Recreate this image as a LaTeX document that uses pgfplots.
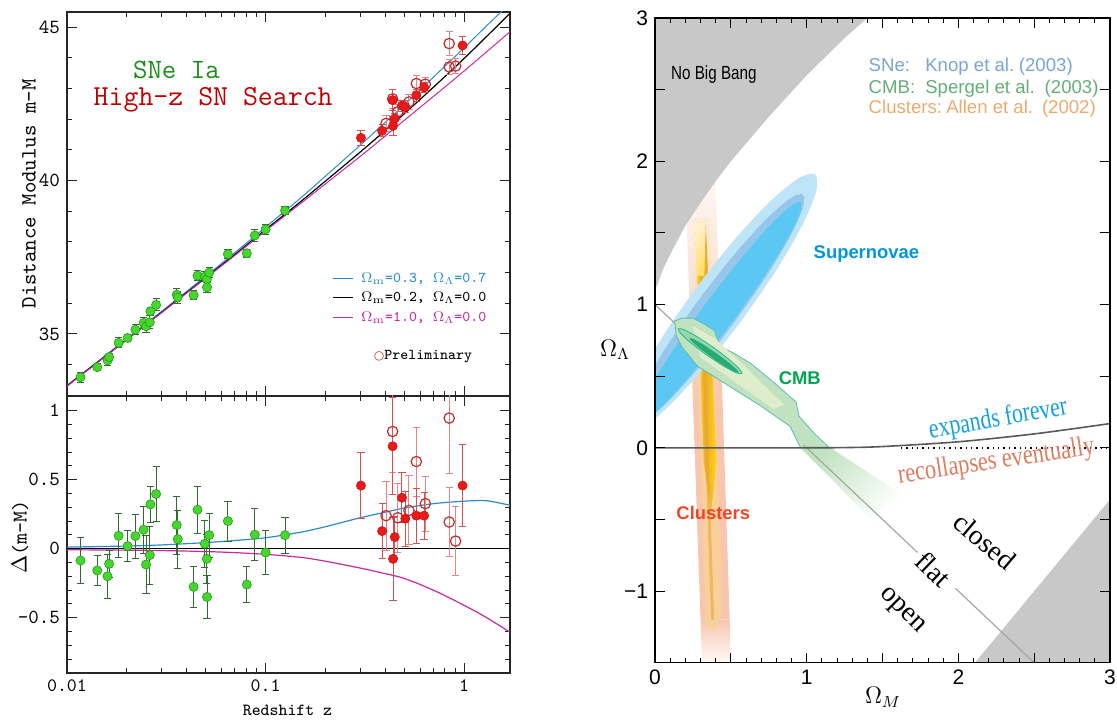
\documentclass[border=0pt]{standalone}
\usepackage{fontspec}
\usepackage{pgfplots}
\usepackage{pgfplotstable}
\pgfplotsset{compat=1.18}
\newfontfamily\hel{Liberation Sans}
\newfontfamily\tms{Liberation Serif}
\newfontfamily\dejavu{DejaVu Sans}
\newcommand\fs[1]{\fontsize{#1}{#1}\selectfont}
\definecolor{gfill}{RGB}{70,215,45}
\definecolor{gedge}{RGB}{40,150,30}
\definecolor{gerr}{RGB}{45,110,45}
\definecolor{rfill}{RGB}{235,25,25}
\definecolor{rerr}{RGB}{215,80,80}
\definecolor{ropen}{RGB}{190,45,45}
\definecolor{cblue}{RGB}{40,140,205}
\definecolor{cmag}{RGB}{200,40,160}
\definecolor{gray1}{RGB}{200,200,200}
\definecolor{snout}{RGB}{190,228,248}
\definecolor{snmid}{RGB}{150,198,234}
\definecolor{snin}{RGB}{90,200,242}
\definecolor{cmbfill}{RGB}{192,226,192}
\definecolor{cmblite}{RGB}{222,238,205}
\definecolor{cmbedge}{RGB}{90,190,170}
\definecolor{cmbell}{RGB}{150,215,175}
\definecolor{cmbdark}{RGB}{40,170,115}
\definecolor{clout}{RGB}{248,198,174}
\definecolor{clmid}{RGB}{247,208,155}
\definecolor{clyel}{RGB}{255,215,20}
\definecolor{clora}{RGB}{232,165,45}
\definecolor{legb}{RGB}{120,165,210}
\definecolor{legg}{RGB}{100,175,120}
\definecolor{lego}{RGB}{235,170,110}
\definecolor{txsn}{RGB}{0,150,220}
\definecolor{txcmb}{RGB}{0,165,80}
\definecolor{txcl}{RGB}{240,70,40}
\definecolor{txexp}{RGB}{20,160,220}
\definecolor{txrec}{RGB}{220,125,95}

\pgfplotstableread{
z mu d e
0.0117 33.59 -0.085 0.17
0.0142 33.92 -0.157 0.11
0.0160 34.14 -0.199 0.16
0.0163 34.25 -0.109 0.10
0.0182 34.71 0.094 0.16
0.0202 34.87 0.019 0.11
0.0221 35.14 0.092 0.16
0.0243 35.36 0.138 0.17
0.0250 35.25 -0.114 0.21
0.0261 35.38 -0.046 0.21
0.0263 35.74 0.322 0.13
0.0281 35.95 0.397 0.20
0.0357 36.28 0.172 0.21
0.0361 36.19 0.070 0.21
0.0434 36.26 -0.276 0.15
0.0454 36.90 0.283 0.17
0.0494 36.87 0.036 0.17
0.0506 36.78 -0.073 0.18
0.0507 36.52 -0.349 0.155
0.0520 37.00 0.099 0.16
0.0646 37.60 0.201 0.145
0.0804 37.63 -0.259 0.13
0.0882 38.21 0.102 0.19
0.1000 38.41 -0.027 0.16
0.1253 39.02 0.099 0.13
}\greentab

\pgfplotstableread{
z mu d e
0.302 41.39 0.458 0.24
0.386 41.62 0.128 0.20
0.436 42.62 0.743 0.35
0.438 41.78 -0.073 0.30
0.447 42.02 0.085 0.15
0.486 42.44 0.370 0.18
0.505 42.40 0.218 0.20
0.574 42.78 0.240 0.20
0.628 43.03 0.240 0.17
0.981 44.40 0.458 0.30
}\redtab

\pgfplotstableread{
z mu d e
0.404 41.86 0.240 0.25
0.436 42.66 0.850 0.30
0.463 42.24 0.225 0.25
0.527 42.56 0.278 0.25
0.574 43.16 0.632 0.25
0.637 43.14 0.327 0.20
0.840 44.46 0.947 0.40
0.840 43.70 0.194 0.25
0.905 43.73 0.056 0.25
}\opentab

\pgfplotstableread{
z black blue mag db dm
0.01 33.31 33.32 33.30 0.012 -0.007
0.02 34.82 34.84 34.81 0.020 -0.010
0.03 35.71 35.74 35.70 0.028 -0.013
0.05 36.84 36.885 36.82 0.045 -0.020
0.07 37.59 37.65 37.56 0.060 -0.028
0.1 38.40 38.48 38.36 0.080 -0.040
0.15 39.31 39.43 39.25 0.120 -0.062
0.2 39.98 40.14 39.89 0.160 -0.090
0.3 40.93 41.155 40.79 0.225 -0.140
0.4 41.63 41.895 41.45 0.265 -0.180
0.5 42.18 42.475 41.965 0.295 -0.215
0.7 43.04 43.367 42.74 0.327 -0.300
1.0 43.98 44.325 43.57 0.345 -0.410
1.3 44.70 45.048 44.20 0.348 -0.500
1.7 45.45 45.765 44.845 0.315 -0.605
}\curvetab

\begin{document}
\begin{tikzpicture}
\useasboundingbox (0,0) rectangle (558.5pt,361pt);

% ---------- top left ----------
\begin{axis}[scale only axis, anchor=south west, width=221.5pt,
  at={(33.5pt,163pt)}, height=192pt,
  xmode=log, xmin=0.01, xmax=1.7,
  xtick={0.01,0.1,1}, xticklabels={},
  minor xtick={0.02,0.03,0.04,0.05,0.06,0.07,0.08,0.09,0.2,0.3,0.4,0.5,0.6,0.7,0.8,0.9},
  ymin=32.98, ymax=45.49,
  ytick={35,40,45}, yticklabels={35,40,45},
  minor ytick={33,34,36,37,38,39,41,42,43,44},
  tick align=inside, major tick length=5pt, minor tick length=2.5pt,
  tick style={black!85, line width=0.5pt},
  axis line style={black!85, line width=0.6pt},
  yticklabel style={font=\ttfamily\fs{10}}]
\addplot[cblue, line width=0.5pt, smooth] table[x=z,y=blue]{\curvetab};
\addplot[black, line width=0.6pt, smooth] table[x=z,y=black]{\curvetab};
\addplot[cmag, line width=0.5pt, smooth] table[x=z,y=mag]{\curvetab};
\addplot[only marks, mark=*, mark size=2.3pt, mark options={fill=gfill, draw=gedge, line width=0.3pt},
  error bars/.cd, y dir=both, y explicit, error bar style={gerr, line width=0.5pt},
  error mark options={rotate=90, gerr, mark size=1.8pt, line width=0.5pt}]
  table[x=z,y=mu,y error=e]{\greentab};
\addplot[only marks, mark=o, mark size=2.6pt, mark options={draw=ropen, line width=0.6pt},
  error bars/.cd, y dir=both, y explicit, error bar style={rerr!70, line width=0.5pt},
  error mark options={rotate=90, rerr!70, mark size=1.8pt, line width=0.5pt}]
  table[x=z,y=mu,y error=e]{\opentab};
\addplot[only marks, mark=*, mark size=2.3pt, mark options={fill=rfill, draw=rfill!85!black, line width=0.3pt},
  error bars/.cd, y dir=both, y explicit, error bar style={rerr, line width=0.5pt},
  error mark options={rotate=90, rerr, mark size=1.8pt, line width=0.5pt}]
  table[x=z,y=mu,y error=e]{\redtab};
\node[font=\ttfamily\fs{14}, text=green!50!black!90, anchor=center] at (rel axis cs:0.247,0.849) {SNe Ia};
\node[font=\ttfamily\fs{14.5}, text=red!75!black, anchor=center] at (rel axis cs:0.330,0.771) {High-z SN Search};
\node[font=\ttfamily\fs{7.5}, anchor=west, inner sep=0pt] at (rel axis cs:0.600,0.304) {\textcolor{cblue}{\rule[0.6ex]{10pt}{0.5pt}\hspace{4pt}$\Omega_{\mathrm{m}}$=0.3, $\Omega_\Lambda$=0.7}};
\node[font=\ttfamily\fs{7.5}, anchor=west, inner sep=0pt] at (rel axis cs:0.600,0.255) {\textcolor{black}{\rule[0.6ex]{10pt}{0.7pt}\hspace{4pt}$\Omega_{\mathrm{m}}$=0.2, $\Omega_\Lambda$=0.0}};
\node[font=\ttfamily\fs{7.5}, anchor=west, inner sep=0pt] at (rel axis cs:0.600,0.204) {\textcolor{cmag}{\rule[0.6ex]{10pt}{0.5pt}\hspace{4pt}$\Omega_{\mathrm{m}}$=1.0, $\Omega_\Lambda$=0.0}};
\node[font=\ttfamily\fs{7.5}, anchor=west, inner sep=0pt] at (rel axis cs:0.692,0.102) {{\dejavu\fs{6}\textcolor{ropen}{○}}Preliminary};
\end{axis}

% ---------- bottom left ----------
\begin{axis}[scale only axis, anchor=south west, width=221.5pt,
  at={(33.5pt,24.5pt)}, height=138.5pt,
  xmode=log, xmin=0.01, xmax=1.7,
  xtick={0.01,0.1,1}, xticklabels={0.01,0.1,1},
  minor xtick={0.02,0.03,0.04,0.05,0.06,0.07,0.08,0.09,0.2,0.3,0.4,0.5,0.6,0.7,0.8,0.9},
  ymin=-0.9, ymax=1.107,
  ytick={-0.5,0,0.5,1}, yticklabels={-{}0.5,0,0.5,1},
  minor ytick={-0.8,-0.7,-0.6,-0.4,-0.3,-0.2,-0.1,0.1,0.2,0.3,0.4,0.6,0.7,0.8,0.9},
  tick align=inside, major tick length=5pt, minor tick length=2.5pt,
  tick style={black!85, line width=0.5pt},
  axis line style={black!85, line width=0.6pt},
  yticklabel style={font=\ttfamily\fs{10}},
  xticklabel style={font=\ttfamily\fs{9.5}}]
\addplot[black, line width=0.6pt] coordinates {(0.01,0) (1.7,0)};
\addplot[cblue, line width=0.6pt, smooth] table[x=z,y=db]{\curvetab};
\addplot[cmag, line width=0.6pt, smooth] table[x=z,y=dm]{\curvetab};
\addplot[only marks, mark=*, mark size=2.3pt, mark options={fill=gfill, draw=gedge, line width=0.3pt},
  error bars/.cd, y dir=both, y explicit, error bar style={gerr, line width=0.5pt},
  error mark options={rotate=90, gerr, mark size=1.8pt, line width=0.5pt}]
  table[x=z,y=d,y error=e]{\greentab};
\addplot[only marks, mark=o, mark size=2.6pt, mark options={draw=ropen, line width=0.6pt},
  error bars/.cd, y dir=both, y explicit, error bar style={rerr!70, line width=0.5pt},
  error mark options={rotate=90, rerr!70, mark size=1.8pt, line width=0.5pt}]
  table[x=z,y=d,y error=e]{\opentab};
\addplot[only marks, mark=*, mark size=2.3pt, mark options={fill=rfill, draw=rfill!85!black, line width=0.3pt},
  error bars/.cd, y dir=both, y explicit, error bar style={rerr, line width=0.5pt},
  error mark options={rotate=90, rerr, mark size=1.8pt, line width=0.5pt}]
  table[x=z,y=d,y error=e]{\redtab};
\end{axis}

\node[rotate=90, font=\ttfamily\fs{10.9}] at (14.5pt,264pt) {Distance Modulus m-M};
\node[rotate=90, font=\ttfamily\fs{10.5}] at (10pt,92.5pt) {$\Delta$(m-M)};
\node[font=\ttfamily\fs{8.5}] at (143.75pt,6pt) {Redshift z};

% ---------- right ----------
\begin{axis}[at={(327.5pt,29.65pt)}, anchor=south west, scale only axis,
  width=227.5pt, height=322.35pt,
  xmin=0, xmax=3, ymin=-1.5, ymax=3,
  xtick={0,0.5,1,1.5,2,2.5,3}, xticklabels={0,,1,,2,,3},
  ytick={-1.5,-1,-0.5,0,0.5,1,1.5,2,2.5,3}, yticklabels={,−1,,0,,1,,2,,3},
  minor x tick num=4,
  tick align=inside, major tick length=5pt, minor tick length=2.5pt,
  tick style={black, line width=0.5pt},
  axis line style={black, line width=0.7pt},
  ticklabel style={font=\hel\fs{10.5}},
  axis on top]
% clusters
\addplot[draw=none, top color=clout!15, bottom color=clout] coordinates {(0.20,1.85) (0.40,1.85) (0.446,0.3) (0.251,0.3)} -- cycle;
\addplot[draw=none, fill=clout] coordinates {(0.251,0.3) (0.446,0.3) (0.4925,-1.2) (0.300,-1.2)} -- cycle;
\addplot[draw=none, top color=clout, bottom color=clout!10] coordinates {(0.300,-1.2) (0.4925,-1.2) (0.50,-1.5) (0.31,-1.5)} -- cycle;
\addplot[draw=none, top color=clmid!40, bottom color=clmid] coordinates {(0.255,1.6) (0.365,1.6) (0.40,0.3) (0.29,0.3)} -- cycle;
\addplot[draw=none, fill=clmid] coordinates {(0.29,0.3) (0.40,0.3) (0.445,-1.15) (0.39,-1.27) (0.335,-1.25)} -- cycle;
\addplot[draw=none, left color=clyel, right color=clyel, middle color=clora!85!clyel] coordinates {(0.265,1.57) (0.335,1.57) (0.405,-0.1) (0.37,-0.45) (0.322,-0.1)} -- cycle;
\addplot[draw=none, fill=clora, opacity=0.55] coordinates {(0.293,1.2) (0.313,1.2) (0.39,-1.2) (0.37,-1.2)} -- cycle;
\addplot[draw=none, top color=white, bottom color=clyel!60, opacity=0.8] coordinates {(0.265,1.57) (0.335,1.57) (0.325,1.2) (0.275,1.2)} -- cycle;
% gray regions
\addplot[draw=none, fill=gray1] coordinates {(0,1.1) (0.02,1.15) (0.05,1.24) (0.1,1.35) (0.2,1.55) (0.3,1.71) (0.4,1.86) (0.5,2.0) (0.75,2.31) (1.0,2.6) (1.25,2.86) (1.4,3.0) (0,3)} -- cycle;
\addplot[draw=none, fill=gray1] coordinates {(2.11,-1.5) (3,-1.5) (3,-0.36)} -- cycle;
% supernovae
\addplot[draw=none, fill=snout, smooth] coordinates {(0.5684,0.8838) (0.3140,0.5448) (0.0757,0.2752) (-0.1101,0.1159) (-0.2152,0.0912) (-0.2237,0.2049) (-0.1341,0.4396) (0.0398,0.7596) (0.2716,1.1162) (0.5260,1.4552) (0.7643,1.7248) (0.9501,1.8841) (1.0552,1.9088) (1.0637,1.7951) (0.9741,1.5604) (0.8002,1.2404) (0.5684,0.8838)};
\addplot[draw=none, fill=snmid, smooth] coordinates {(0.5213,0.8728) (0.2967,0.5703) (0.0895,0.3271) (-0.0690,0.1803) (-0.1546,0.1522) (-0.1542,0.2471) (-0.0679,0.4505) (0.0911,0.7315) (0.2987,1.0472) (0.5233,1.3497) (0.7305,1.5929) (0.8890,1.7397) (0.9746,1.7678) (0.9742,1.6729) (0.8879,1.4695) (0.7289,1.1885) (0.5213,0.8728)};
\addplot[draw=none, fill=snin, smooth] coordinates {(0.5048,0.8736) (0.2912,0.5824) (0.0974,0.3456) (-0.0474,0.1993) (-0.1211,0.1658) (-0.1124,0.2501) (-0.0226,0.4396) (0.1346,0.7050) (0.3352,1.0064) (0.5488,1.2976) (0.7426,1.5344) (0.8874,1.6807) (0.9611,1.7142) (0.9524,1.6299) (0.8626,1.4404) (0.7054,1.1750) (0.5048,0.8736)};
% CMB
\addplot[draw=none, top color=cmbfill, bottom color=white, shading angle=45] coordinates {(0.958,0.0) (1.156,0.0) (1.62,-0.32) (1.465,-0.54)} -- cycle;
\addplot[draw=cmbedge, line width=0.4pt, fill=cmbfill] coordinates {(0.13,0.885) (0.18,0.905) (0.25,0.905) (0.33,0.86) (0.39,0.82) (0.43,0.71) (0.52,0.66) (0.63,0.59) (0.78,0.46) (0.93,0.32) (0.95,0.22) (1.05,0.10) (1.15,0.0) (0.96,0.0) (0.89,0.15) (0.70,0.29) (0.52,0.41) (0.28,0.57) (0.18,0.70) (0.14,0.78)} -- cycle;
\addplot[draw=none, fill=cmblite] coordinates {(0.25,0.85) (0.40,0.76) (0.60,0.56) (0.85,0.30) (0.78,0.27) (0.50,0.48) (0.30,0.63)} -- cycle;
\addplot[draw=cmbdark!80!cyan, line width=0.4pt, fill=cmbell, smooth] coordinates {(0.3440,0.6455) (0.2414,0.7278) (0.1716,0.7956) (0.1529,0.8309) (0.1906,0.8242) (0.2744,0.7772) (0.3820,0.7025) (0.4846,0.6202) (0.5544,0.5524) (0.5731,0.5171) (0.5354,0.5238) (0.4516,0.5708) (0.3440,0.6455)};
\addplot[draw=none, fill=cmbdark, smooth] coordinates {(0.3786,0.6279) (0.2993,0.6906) (0.2444,0.7409) (0.2284,0.7657) (0.2558,0.7581) (0.3191,0.7202) (0.4014,0.6621) (0.4807,0.5994) (0.5356,0.5491) (0.5516,0.5243) (0.5242,0.5319) (0.4609,0.5698) (0.3786,0.6279)};
% lines
\addplot[gray!70, line width=0.6pt] coordinates {(0,1) (0.13,0.87)};
\addplot[gray!70, line width=0.6pt] coordinates {(0.98,0.02) (1.73,-0.73)};
\addplot[gray!70, line width=0.6pt] coordinates {(1.98,-0.98) (2.5,-1.5)};
\addplot[black!65, line width=0.8pt, smooth] coordinates {(0,0) (0.5,0) (1,0) (1.25,0.0015) (1.5,0.0087) (2,0.042) (2.5,0.097) (3,0.169)};
\addplot[black, line width=0.7pt, dotted] coordinates {(1.62,0) (3,0)};
% texts
\node[anchor=west, font=\hel\fs{9.5}] at (axis cs:0.06,2.605) {\scalebox{0.8}[1]{No Big Bang}};
\node[anchor=base west, font=\hel\fs{9.3}, text=legb] at (axis cs:1.3626,2.626) {SNe:};
\node[anchor=base west, font=\hel\fs{9.3}, text=legb] at (axis cs:1.7357,2.626) {Knop et al.};
\node[anchor=base west, font=\hel\fs{9.3}, text=legb] at (axis cs:2.353,2.626) {(2003)};
\node[anchor=base west, font=\hel\fs{9.3}, text=legg] at (axis cs:1.3626,2.476) {CMB:};
\node[anchor=base west, font=\hel\fs{9.3}, text=legg] at (axis cs:1.7357,2.476) {Spergel et al.};
\node[anchor=base west, font=\hel\fs{9.3}, text=legg] at (axis cs:2.523,2.476) {(2003)};
\node[anchor=base west, font=\hel\fs{9.3}, text=lego] at (axis cs:1.3626,2.336) {Clusters:};
\node[anchor=base west, font=\hel\fs{9.3}, text=lego] at (axis cs:1.874,2.336) {Allen et al.};
\node[anchor=base west, font=\hel\fs{9.3}, text=lego] at (axis cs:2.505,2.336) {(2002)};
\node[anchor=west, font=\hel\bfseries\fs{9.2}, text=txsn] at (axis cs:1.0,1.356) {Supernovae};
\node[anchor=west, font=\hel\bfseries\fs{9.2}, text=txcmb] at (axis cs:0.77,0.488) {CMB};
\node[anchor=west, font=\hel\bfseries\fs{9.2}, text=txcl] at (axis cs:0.095,-0.454) {Clusters};
\node[rotate=10, font=\tms\fs{14}, text=txexp] at (axis cs:2.263,0.197) {\scalebox{0.78}[1]{expands forever}};
\node[rotate=8.5, font=\tms\fs{14}, text=txrec] at (axis cs:2.25,-0.10) {\scalebox{0.8}[1]{recollapses eventually}};
\node[rotate=-40, font=\tms\fs{14}, inner sep=0pt] at (axis cs:2.175,-0.652) {closed};
\node[rotate=-44, font=\tms\fs{14}, inner sep=0pt] at (axis cs:1.835,-0.849) {flat};
\node[rotate=-45, font=\tms\fs{14}, inner sep=0pt] at (axis cs:1.626,-1.14) {open};
\end{axis}
\node at (307.5pt,186pt) {\fs{12}$\Omega_\Lambda$};
\node at (441.5pt,12.5pt) {\fs{12}$\Omega_M$};
\end{tikzpicture}
\end{document}
